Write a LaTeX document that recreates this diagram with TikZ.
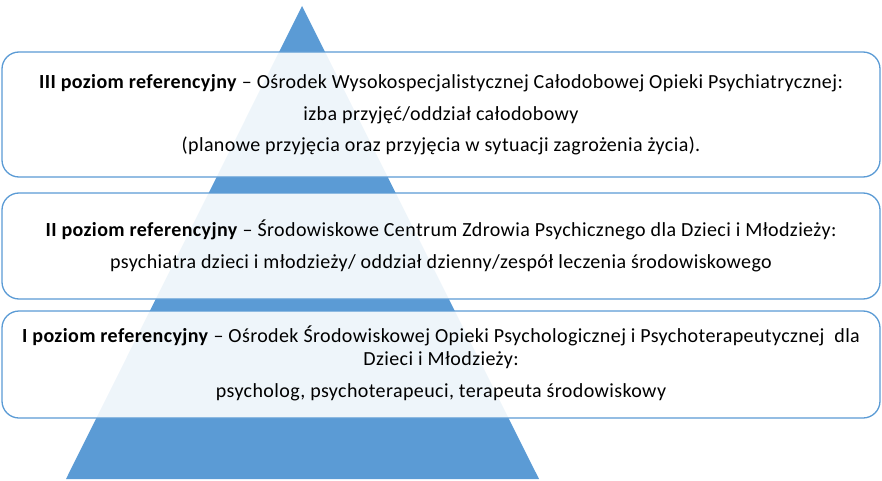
\documentclass[tikz,border=0pt]{standalone}
\usepackage{fontspec}
\setmainfont{Carlito}[LetterSpace=2.0]
\definecolor{tri}{HTML}{5B9BD5}
\begin{document}
\begin{tikzpicture}[x=1pt,y=-1pt,
  boxst/.style={draw=tri, line width=1.3pt, fill=white, fill opacity=0.9, draw opacity=1, rounded corners=17pt, inner sep=0pt},
  txt/.style={anchor=base, inner sep=0pt, font=\fontsize{20}{23}\selectfont, text=black}]
\useasboundingbox (0,0) rectangle (882,481);
\coordinate (apex) at (302,6);
\coordinate (bl) at (66,479);
\coordinate (br) at (539,479);
\fill[tri] (apex) -- (br) -- (bl) -- cycle;
\node[boxst, minimum width=878pt, minimum height=125pt] (b3) at (441,114.5) {};
\node[boxst, minimum width=878pt, minimum height=106pt] (b2) at (441,246) {};
\node[boxst, minimum width=878pt, minimum height=107pt] (b1) at (441,364.5) {};
\node[txt] (t3a) at (441,89) {\textbf{III poziom referencyjny} – Ośrodek Wysokospecjalistycznej Całodobowej Opieki Psychiatrycznej:};
\node[txt] (t3b) at (441,121) {izba przyjęć/oddział całodobowy};
\node[txt] (t3c) at (441,152) {(planowe przyjęcia oraz przyjęcia w sytuacji zagrożenia życia).};
\node[txt] (t2a) at (441,236) {\textbf{II poziom referencyjny} – Środowiskowe Centrum Zdrowia Psychicznego dla Dzieci i Młodzieży:};
\node[txt] (t2b) at (441,268) {psychiatra dzieci i młodzieży/ oddział dzienny/zespół leczenia środowiskowego};
\node[txt] (t1a) at (441,342) {\textbf{I poziom referencyjny} – Ośrodek Środowiskowej Opieki Psychologicznej i Psychoterapeutycznej\ \ dla};
\node[txt] (t1b) at (441,365) {Dzieci i Młodzieży:};
\node[txt] (t1c) at (441,397) {psycholog, psychoterapeuci, terapeuta środowiskowy};
\end{tikzpicture}
\end{document}
